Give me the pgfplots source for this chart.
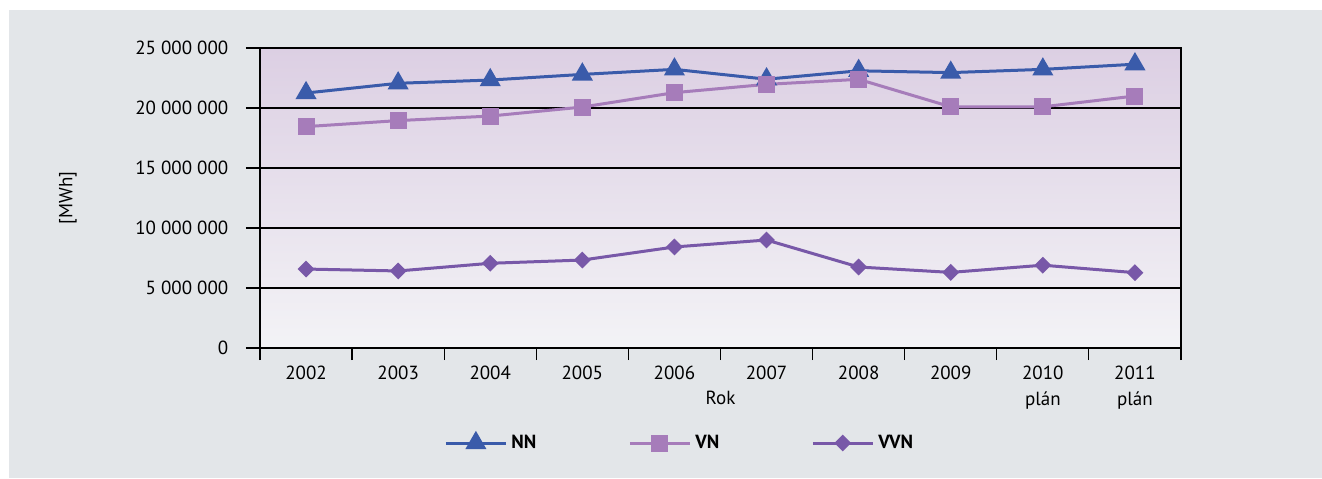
\documentclass[border=0pt]{standalone}
\usepackage{fontspec}
\setmainfont{PT Sans}
\usepackage{pgfplots}
\pgfplotsset{compat=1.18}
\definecolor{bgout}{HTML}{E3E6E9}
\definecolor{nncol}{HTML}{3A5BAA}
\definecolor{vncol}{HTML}{A67CBA}
\definecolor{vvncol}{HTML}{7858A8}
\definecolor{shtop}{HTML}{DCCFE3}
\definecolor{shmid}{HTML}{E3DBE9}
\definecolor{shbot}{HTML}{F3F3F6}

\begin{document}
\fontsize{9.5}{11}\selectfont
\begin{tikzpicture}
\fill[white] (-130pt,-65pt) rectangle (531pt,174pt);
\fill[bgout] (-125.5pt,-65pt) rectangle (531pt,169pt);
\begin{axis}[
  scale only axis, width=460.5pt, height=150pt,
  xmin=-0.5, xmax=9.5, ymin=0, ymax=25000000,
  axis background/.style={shade, top color=shtop, middle color=shmid, bottom color=shbot},
  axis line style={black, line width=0.6pt},
  tick style={black, line width=0.6pt},
  tick align=outside, tick pos=left,
  xtick={0,...,9},
  xticklabels={2002,2003,2004,2005,2006,2007,2008,2009,{2010\\plán},{2011\\plán}},
  x tick label style={align=center, font=\fontsize{9.5}{13}\selectfont, yshift=1.5pt},
  major x tick style={draw=none},
  minor xtick={-0.5,0.5,...,9.5},
  minor tick length=6pt,
  major tick length=7pt,
  ytick={0,5000000,10000000,15000000,20000000,25000000},
  yticklabels={0,5 000 000,10 000 000,15 000 000,20 000 000,25 000 000},
  y tick label style={xshift=-5.5pt},
  scaled y ticks=false,
  ymajorgrids, grid style={black, line width=0.6pt},
  xlabel={Rok},
  xlabel style={at={(axis description cs:0.5,0)}, anchor=center, yshift=-25pt},
  ylabel={[MWh]},
  ylabel style={at={(axis description cs:0,0.5)}, anchor=center, yshift=96pt},
  legend columns=3,
  legend style={at={(axis description cs:0,0)}, anchor=west, xshift=89pt, yshift=-47.5pt,
    draw=none, fill=none, font=\bfseries,
    /tikz/every even column/.append style={column sep=44pt}},
  legend image code/.code={\draw[mark repeat=2, mark phase=2, #1] plot coordinates {(0pt,0pt) (15pt,0pt) (30pt,0pt)};},
]
\addplot[nncol, line width=1.5pt, mark=triangle*, mark size=4.6pt, mark options={solid}]
  coordinates {(0,21250000) (1,22060000) (2,22330000) (3,22800000) (4,23220000) (5,22400000) (6,23100000) (7,22950000) (8,23220000) (9,23650000)};
\addplot[vncol, line width=1.5pt, mark=square*, mark size=3.5pt]
  coordinates {(0,18450000) (1,18950000) (2,19330000) (3,20080000) (4,21280000) (5,21970000) (6,22390000) (7,20100000) (8,20100000) (9,21000000)};
\addplot[vvncol, line width=1.5pt, mark=diamond*, mark size=4.2pt, mark options={yscale=0.75}]
  coordinates {(0,6580000) (1,6420000) (2,7060000) (3,7330000) (4,8420000) (5,9000000) (6,6750000) (7,6300000) (8,6900000) (9,6280000)};
\legend{NN,VN,VVN}
\end{axis}
\pgfresetboundingbox
\path[use as bounding box] (-130pt,-65pt) rectangle (531pt,174pt);
\end{tikzpicture}
\end{document}
